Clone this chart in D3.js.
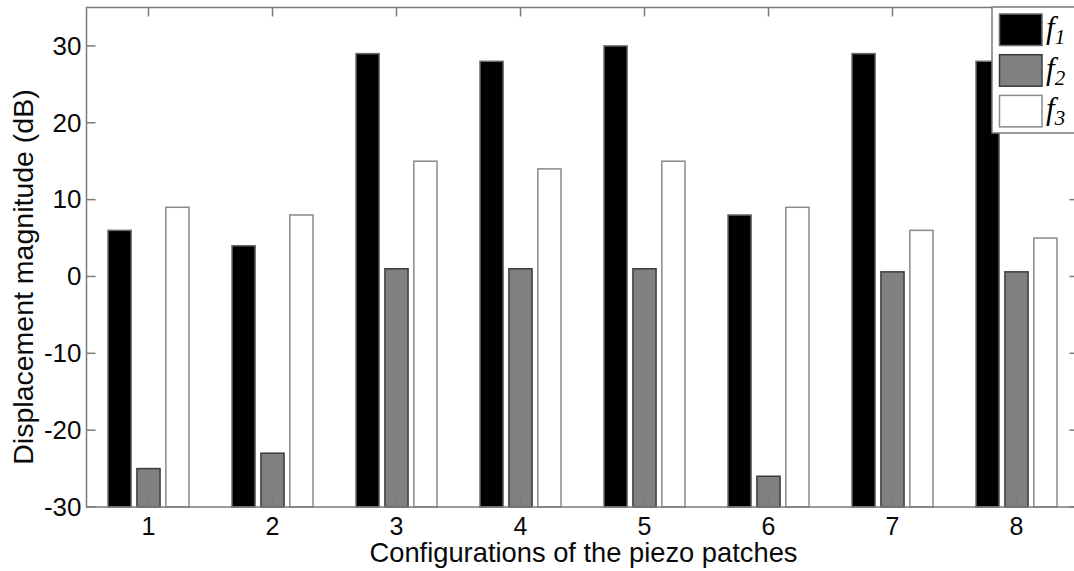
<!DOCTYPE html>
<html>
<head>
<meta charset="utf-8">
<script src="https://cdn.jsdelivr.net/npm/d3@7/dist/d3.min.js"></script>
<style>
  body { margin: 0; background: #fff; }
  text { font-family: "Liberation Sans", Arial, sans-serif; }
</style>
</head>
<body>
<div id="content"></div>
<script>
// data
var configs = ["1", "2", "3", "4", "5", "6", "7", "8"];
var f1 = [6, 4, 29, 28, 30, 8, 29, 28];
var f2 = [-25, -23, 1, 1, 1, -26, 0.6, 0.6];
var f3 = [9, 8, 15, 14, 15, 9, 6, 5];
var seriesNames = ["1", "2", "3"];
var yTicks = [-30, -20, -10, 0, 10, 20, 30];

var width = 1074, height = 571;
var x_min = 86.5, x_max = 1078.5, y_min = 507, y_max = 7.5;

var svg = d3.select("#content")
  .append("svg")
  .attr("width", width)
  .attr("height", height);

var x = d3.scaleBand().domain(configs).range([x_min, x_max]).paddingInner(0).paddingOuter(0);
var xSub = d3.scaleBand().domain([0, 1, 2]).range([-40.5, 40.5]).paddingInner(0.2);
var y = d3.scaleLinear().domain([-30, 35]).range([y_min, y_max]);

var fills = ["#000000", "#808080", "#ffffff"];
var strokes = ["#6a6a6a", "#3c3c3c", "#8a8a8a"];
var allSeries = [f1, f2, f3];
var textColor = "#0a0a0a";

// bars (baseline at bottom of the axis)
allSeries.forEach(function(vals, s) {
  svg.append("g").selectAll("rect")
    .data(vals)
    .enter()
    .append("rect")
    .attr("x", function(d, i) { return x(configs[i]) + x.bandwidth() / 2 + xSub(s); })
    .attr("width", xSub.bandwidth())
    .attr("y", function(d) { return y(d); })
    .attr("height", function(d) { return y(-30) - y(d); })
    .style("fill", fills[s])
    .style("stroke", strokes[s])
    .style("stroke-width", 1.5);
});

// axes box
var axisColor = "#7a7a7a";
svg.append("rect")
  .attr("x", x_min).attr("y", y_max)
  .attr("width", x_max - x_min).attr("height", y_min - y_max)
  .style("fill", "none").style("stroke", axisColor).style("stroke-width", 1.5);

var centers = configs.map(function(c) { return x(c) + x.bandwidth() / 2; });

// x ticks, bottom and top
var xAxisB = d3.axisBottom(x).tickSize(0).tickPadding(10);
var gx = svg.append("g").attr("transform", "translate(0," + y_min + ")").call(xAxisB);
gx.select(".domain").remove();
gx.selectAll("text").style("font-size", "25px").style("fill", textColor);

centers.forEach(function(cx) {
  svg.append("line").attr("x1", cx).attr("x2", cx).attr("y1", y_min).attr("y2", y_min - 9)
    .style("stroke", axisColor).style("stroke-width", 1.5);
  svg.append("line").attr("x1", cx).attr("x2", cx).attr("y1", y_max).attr("y2", y_max + 9)
    .style("stroke", axisColor).style("stroke-width", 1.5);
});

// y ticks, left and right
var yAxisL = d3.axisLeft(y).tickValues(yTicks).tickSize(0).tickPadding(5)
  .tickFormat(function(d) { return String(d); });
var gy = svg.append("g").attr("transform", "translate(" + x_min + ",0)").call(yAxisL);
gy.select(".domain").remove();
gy.selectAll("text").style("font-size", "26px").style("fill", textColor);

yTicks.forEach(function(t) {
  svg.append("line").attr("x1", x_min).attr("x2", x_min + 9).attr("y1", y(t)).attr("y2", y(t))
    .style("stroke", axisColor).style("stroke-width", 1.5);
  svg.append("line").attr("x1", x_max).attr("x2", x_max - 9).attr("y1", y(t)).attr("y2", y(t))
    .style("stroke", axisColor).style("stroke-width", 1.5);
});

// axis titles
svg.append("text")
  .attr("x", (x_min + x_max) / 2 + 1)
  .attr("y", 562)
  .attr("text-anchor", "middle")
  .style("font-size", "27.3px")
  .style("fill", textColor)
  .text("Configurations of the piezo patches");

svg.append("text")
  .attr("transform", "translate(33,277) rotate(-90)")
  .attr("text-anchor", "middle")
  .style("font-size", "28.5px")
  .style("fill", textColor)
  .text("Displacement magnitude (dB)");

// legend
var lg = svg.append("g");
lg.append("rect")
  .attr("x", 992).attr("y", 7)
  .attr("width", 100).attr("height", 126)
  .style("fill", "#fff").style("stroke", axisColor).style("stroke-width", 1.5);

seriesNames.forEach(function(n, s) {
  var top = 14 + s * 40.7;
  lg.append("rect")
    .attr("x", 999.5).attr("y", top)
    .attr("width", 42.5).attr("height", 31.5)
    .style("fill", fills[s]).style("stroke", strokes[s]).style("stroke-width", 1.5);
  var t = lg.append("text")
    .attr("x", 1046).attr("y", top + 24)
    .style("font-family", "'Liberation Serif', 'Times New Roman', serif")
    .style("font-style", "italic")
    .style("font-size", "31px")
    .style("fill", "#000");
  t.append("tspan").text("f");
  t.append("tspan").attr("dy", 6).style("font-size", "21px").text(n);
});
</script>
</body>
</html>
